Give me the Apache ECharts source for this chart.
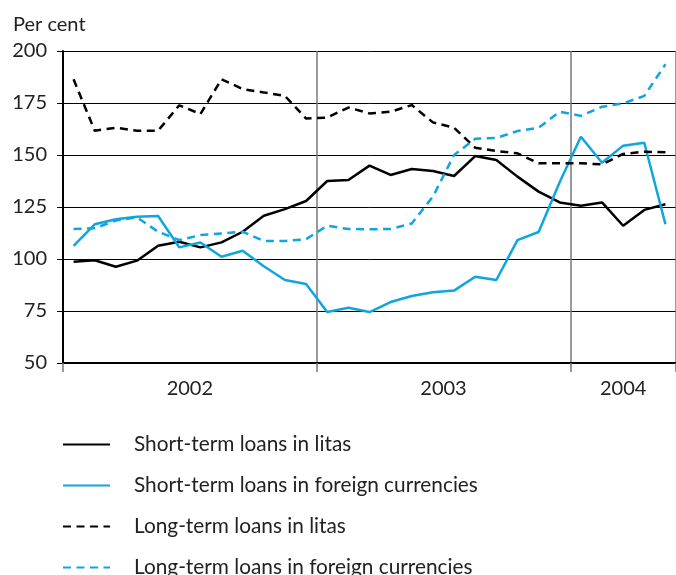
<!DOCTYPE html>
<html>
<head>
<meta charset="utf-8">
<script src="https://cdn.jsdelivr.net/npm/echarts@6/dist/echarts.min.js"></script>
<style>
  html, body { margin: 0; padding: 0; background: #fff; }
  #chart { width: 676px; height: 575px; }
</style>
</head>
<body>
<div id="chart"></div>
<script>
// monthly observations, Jan 2002 - May 2004 (index 0..28, plotted at month centres)
const years = ['2002', '2003', '2004'];
const yearLabelPos = [6, 18, 26.5];

const shortLitas = [
  98.7, 99.4, 96.3, 99.2, 106.4, 108.3, 105.6, 108.0, 113.1, 120.8, 124.0, 127.9,
  137.5, 138.0, 144.9, 140.4, 143.3, 142.3, 139.9, 149.5, 147.6, 139.6, 132.4, 127.2,
  125.6, 127.2, 116.0, 123.6, 126.3
];
const shortForeign = [
  106.3, 116.7, 119.1, 120.3, 120.7, 105.6, 107.9, 101.1, 104.0, 96.5, 89.9, 88.0,
  74.5, 76.6, 74.5, 79.3, 82.2, 84.0, 84.8, 91.5, 89.9, 109.1, 113.0, 137.0,
  158.8, 146.3, 154.5, 155.9, 116.7
];
const longLitas = [
  186.4, 161.7, 163.1, 161.7, 161.7, 173.9, 169.7, 186.4, 181.7, 180.1, 178.4, 167.5,
  168.0, 172.8, 170.0, 170.8, 174.0, 165.7, 163.1, 153.5, 151.9, 150.8, 146.0, 146.0,
  146.0, 145.5, 150.5, 151.6, 151.3
];
const longForeign = [
  114.4, 114.8, 118.5, 120.0, 113.1, 109.1, 111.5, 112.3, 113.1, 108.7, 108.7, 109.5,
  116.0, 114.4, 114.3, 114.4, 117.1, 130.0, 150.0, 157.8, 158.2, 161.5, 163.1, 170.8,
  168.8, 173.2, 174.8, 178.4, 193.6
];

const BLUE = '#0ea5e0';
const FONT = 'Lato';

const toPairs = (arr) => arr.map((v, i) => [i + 0.5, v]);

const chart = echarts.init(document.getElementById('chart'));

const makeSeries = (name, data, color, dashed) => ({
  name,
  type: 'line',
  xAxisIndex: 0,
  data: toPairs(data),
  symbol: 'none',
  animation: false,
  lineStyle: {
    color,
    width: 2.5,
    type: dashed ? [8, 5.5] : 'solid'
  },
  itemStyle: { color }
});

chart.setOption({
  backgroundColor: '#fff',
  textStyle: { fontFamily: FONT },
  title: {
    text: 'Per cent',
    left: 8,
    top: 10,
    textStyle: { fontFamily: FONT, fontSize: 20, fontWeight: 'normal', color: '#222' }
  },
  grid: { left: 63, top: 51, width: 616.25, height: 312 },
  xAxis: [
    {
      type: 'value',
      min: 0,
      max: 29,
      interval: 12,
      axisLine: { show: true, onZero: false, lineStyle: { color: '#000', width: 2 } },
      axisTick: { show: true, length: 9, lineStyle: { color: '#777', width: 1.5 } },
      axisLabel: { show: false },
      splitLine: { show: true, lineStyle: { color: '#777', width: 1.5 } }
    },
    {
      type: 'value',
      position: 'bottom',
      min: 0,
      max: 29,
      axisLine: { show: false },
      axisTick: { show: false },
      splitLine: { show: false },
      axisLabel: {
        customValues: yearLabelPos,
        formatter: (v) => years[yearLabelPos.indexOf(v)] || '',
        margin: 16,
        fontFamily: FONT,
        fontSize: 20,
        color: '#222'
      }
    }
  ],
  yAxis: {
    type: 'value',
    min: 50,
    max: 200,
    interval: 25,
    axisLine: { show: true, lineStyle: { color: '#000', width: 2 } },
    axisTick: { show: true, length: 6, lineStyle: { color: '#000', width: 1 } },
    axisLabel: { margin: 16, fontFamily: FONT, fontSize: 20, color: '#222' },
    splitLine: { show: true, lineStyle: { color: '#000', width: 1 } }
  },
  legend: {
    orient: 'vertical',
    left: 62,
    top: 434,
    height: 200,
    padding: 0,
    itemWidth: 47,
    itemHeight: 14,
    itemGap: 20,
    itemStyle: { opacity: 0 },
    textStyle: {
      fontFamily: FONT, fontSize: 20.8, lineHeight: 20, color: '#222',
      padding: [0, 0, 0, 19]
    },
    data: [
      'Short-term loans in litas',
      'Short-term loans in foreign currencies',
      'Long-term loans in litas',
      'Long-term loans in foreign currencies'
    ]
  },
  series: [
    makeSeries('Short-term loans in litas', shortLitas, '#000', false),
    makeSeries('Short-term loans in foreign currencies', shortForeign, BLUE, false),
    makeSeries('Long-term loans in litas', longLitas, '#000', true),
    makeSeries('Long-term loans in foreign currencies', longForeign, BLUE, true)
  ]
});
</script>
</body>
</html>
